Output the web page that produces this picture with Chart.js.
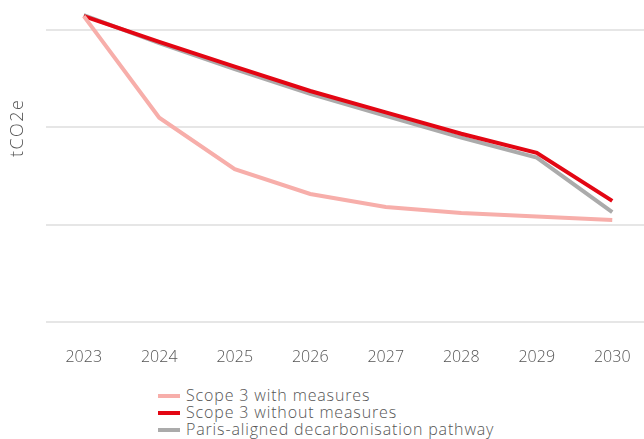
<!DOCTYPE html>
<html>
<head>
<meta charset="utf-8">
<script src="https://cdn.jsdelivr.net/npm/chart.js@4/dist/chart.umd.min.js"></script>
<style>
  html, body { margin: 0; padding: 0; background: #fff; overflow: hidden; }
  #wrap { position: relative; width: 650px; height: 375px; }
  #legend {
    position: absolute; left: 158px; top: 387px;
    font-family: "Open Sans", sans-serif; font-weight: 300; font-size: 16px;
    letter-spacing: 0.85px; color: #555; line-height: 17px;
  }
  #legend .row { display: flex; align-items: center; white-space: nowrap; }
  #legend .mk { display: inline-block; width: 22px; height: 4px; margin-right: 6px; }
</style>
</head>
<body>
<div id="wrap"><canvas id="c"></canvas></div>
<div id="legend"></div>
<script>
// Emissions trajectories, tCO2e (y gridlines every 1000)
const years = ['2023', '2024', '2025', '2026', '2027', '2028', '2029', '2030'];
const withMeasures = [3145, 2100, 1572, 1316, 1182, 1120, 1084, 1048];
const withoutMeasures = [3145, 2880, 2625, 2375, 2155, 1935, 1740, 1245];
const parisPathway = [3155, 2868, 2600, 2345, 2120, 1895, 1690, 1130];
const gridValues = [0, 1000, 2000, 3000];
const seriesNames = ['Scope 3 with measures', 'Scope 3 without measures', 'Paris-aligned decarbonisation pathway'];
const seriesColors = ['#f7aeaa', '#e30613', '#ababab'];

const FONT = '"Open Sans", sans-serif';

// Rotated y-axis caption drawn beside the plot
const yCaption = {
  id: 'yCaption',
  afterDraw(chart) {
    const { ctx, chartArea } = chart;
    ctx.save();
    ctx.translate(18, chartArea.top + (chartArea.bottom - chartArea.top) * 0.395);
    ctx.rotate(-Math.PI / 2);
    ctx.font = '300 18px ' + FONT;
    if ('letterSpacing' in ctx) ctx.letterSpacing = '1.5px';
    ctx.fillStyle = '#555';
    ctx.textAlign = 'center';
    ctx.textBaseline = 'middle';
    ctx.fillText('tCO2e', 0, 0);
    ctx.restore();
  }
};

const series = [withMeasures, withoutMeasures, parisPathway];

const chart = new Chart(document.getElementById('c'), {
  type: 'line',
  data: {
    labels: years,
    datasets: series.map((d, i) => ({
      label: seriesNames[i],
      data: d,
      borderColor: seriesColors[i],
      backgroundColor: seriesColors[i],
      borderWidth: 4,
      pointRadius: 0,
      tension: 0,
      order: i
    }))
  },
  options: {
    responsive: true,
    maintainAspectRatio: false,
    animation: false,
    layout: { padding: { left: 46, top: 1, right: 0, bottom: 0 } },
    plugins: { legend: { display: false }, tooltip: { enabled: false } },
    scales: {
      x: {
        offset: true,
        grid: { display: false },
        border: { display: false },
        ticks: { color: '#555', font: { family: FONT, size: 16, weight: 300 }, padding: 18, maxRotation: 0 },
        afterFit(scale) { scale.height = 53; }
      },
      y: {
        min: 0,
        max: 3300,
        afterBuildTicks(scale) { scale.ticks = gridValues.map(v => ({ value: v })); },
        ticks: { display: false },
        border: { display: false },
        grid: { color: '#e6e6e6', lineWidth: 2, drawTicks: false },
        afterFit(scale) { scale.width = 0; }
      }
    }
  },
  plugins: [yCaption]
});

// Vertical legend list under the chart
const legend = document.getElementById('legend');
seriesNames.forEach((name, i) => {
  const row = document.createElement('div');
  row.className = 'row';
  const mk = document.createElement('span');
  mk.className = 'mk';
  mk.style.background = seriesColors[i];
  const tx = document.createElement('span');
  tx.textContent = name;
  row.appendChild(mk);
  row.appendChild(tx);
  legend.appendChild(row);
});
</script>
</body>
</html>
